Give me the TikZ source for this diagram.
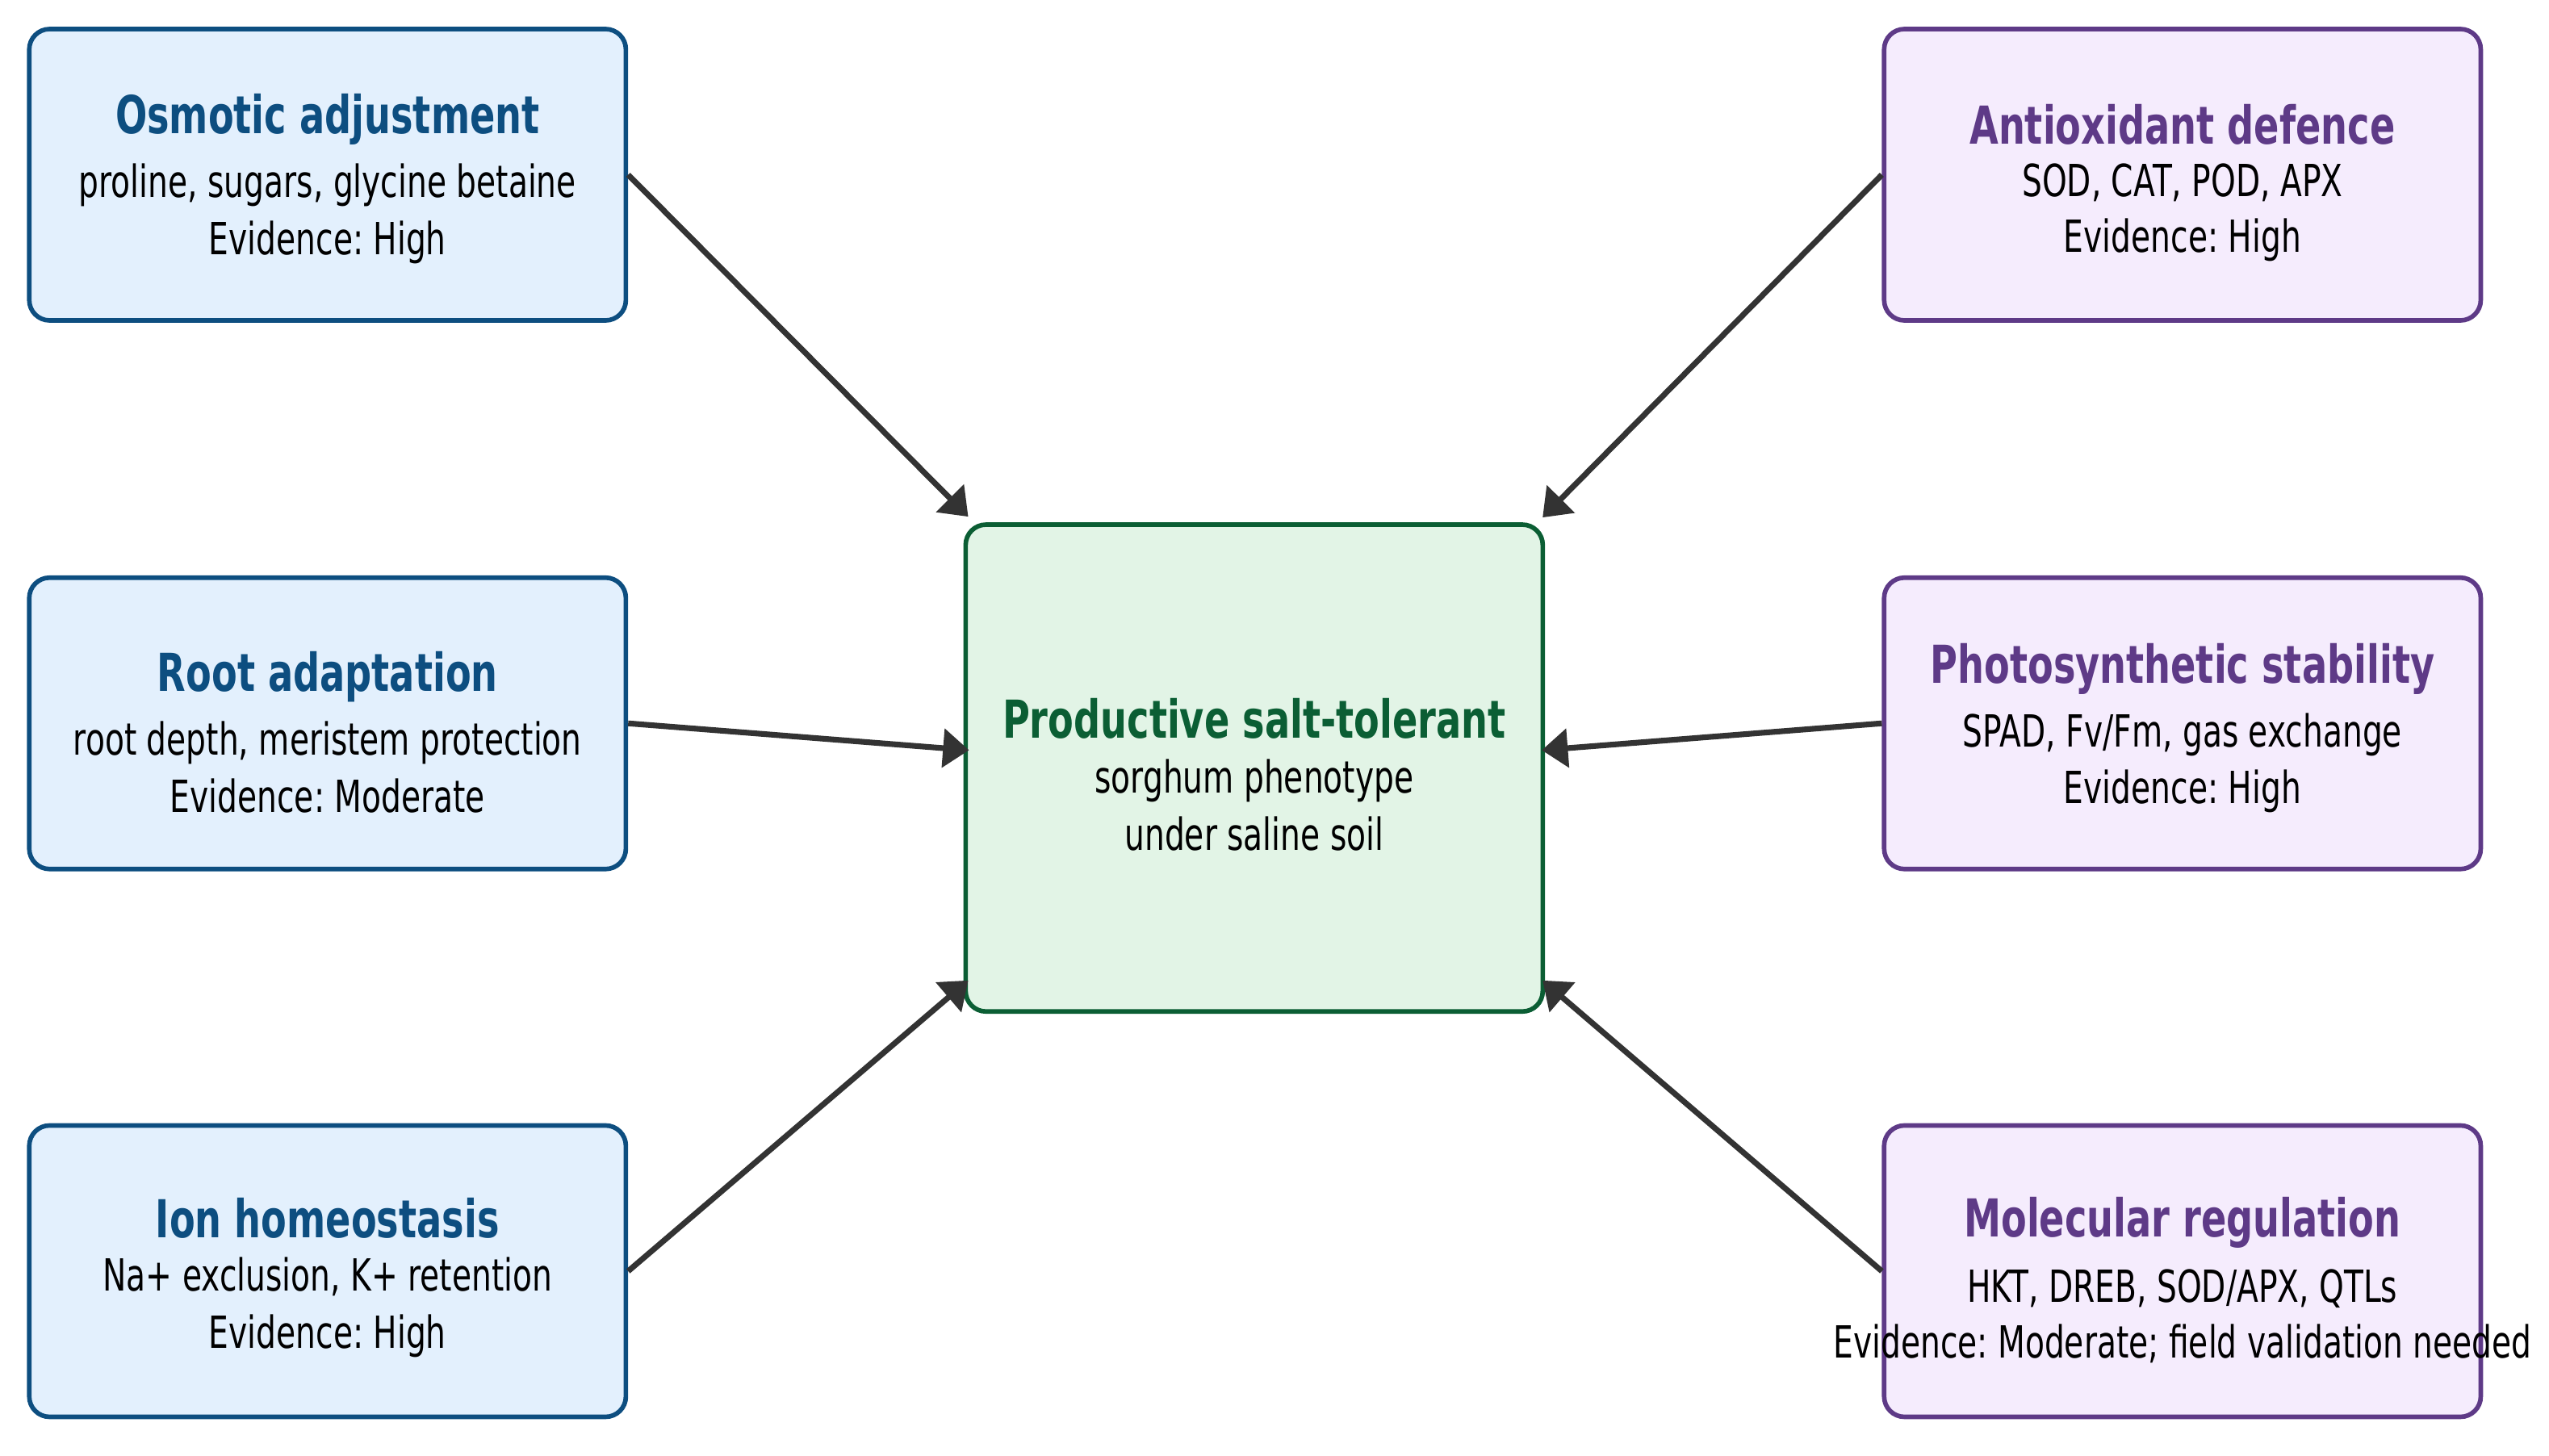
\documentclass[tikz,border=0pt]{standalone}
\usepackage{fontspec}
\setmainfont[FakeStretch=0.714]{DejaVu Sans}
\usetikzlibrary{arrows.meta}
\frenchspacing

\definecolor{bluedge}{HTML}{0D4E80}
\definecolor{bluefill}{HTML}{E3F0FD}
\definecolor{purpedge}{HTML}{5E3A87}
\definecolor{purpfill}{HTML}{F5ECFD}
\definecolor{greenedge}{HTML}{0B5E34}
\definecolor{greenfill}{HTML}{E2F4E6}
\definecolor{arrowgrey}{HTML}{333333}

\newcommand{\boxtitle}[2]{{\color{#1}\fontsize{18.3}{22}\selectfont\bfseries #2}}

\begin{document}
\begin{tikzpicture}[
    box/.style={draw, line width=1.6pt, rounded corners=0.25cm, minimum width=7.34cm, minimum height=3.585cm},
    cause/.style={box, draw=bluedge, fill=bluefill},
    reg/.style={box, draw=purpedge, fill=purpfill},
    core/.style={draw=greenedge, fill=greenfill, line width=1.6pt, rounded corners=0.25cm, minimum width=7.1cm, minimum height=5.99cm},
    txt/.style={align=center, font=\fontsize{15.5}{20}\selectfont},
    link/.style={draw=arrowgrey, line width=2pt, -{Triangle[length=0.32cm, width=0.47cm]}}
]
    \useasboundingbox (0,0) rectangle (31.36,-17.905);

    % boxes
    \node[cause] (osm) at (4.03,-2.15) {};
    \node[cause] (root) at (4.03,-8.90) {};
    \node[cause] (ion) at (4.03,-15.64) {};
    \node[reg] (antiox) at (26.85,-2.15) {};
    \node[reg] (photo) at (26.85,-8.90) {};
    \node[reg] (molec) at (26.85,-15.64) {};
    \node[core] (pheno) at (15.43,-9.45) {};

    % texts (titles without descenders sit closer to the line below)
    \node[txt] at ([yshift=-0.05cm]osm) {\boxtitle{bluedge}{Osmotic adjustment}\\[2.2pt]proline, sugars, glycine betaine\\Evidence: High};
    \node[txt] at ([yshift=-0.11cm]root) {\boxtitle{bluedge}{Root adaptation}\\[2.2pt]root depth, meristem protection\\Evidence: Moderate};
    \node[txt] at ([yshift=-0.08cm]ion) {\boxtitle{bluedge}{Ion homeostasis}\\[-1.2pt]Na+ exclusion, K+ retention\\Evidence: High};
    \node[txt] at ([yshift=-0.1cm]antiox) {\boxtitle{purpedge}{Antioxidant defence}\\[-1.8pt]SOD, CAT, POD, APX\\[-0.6pt]Evidence: High};
    \node[txt] at ([yshift=-0.06cm]photo) {\boxtitle{purpedge}{Photosynthetic stability}\\[2.2pt]SPAD, Fv/Fm, gas exchange\\Evidence: High};
    \node[txt] at ([yshift=-0.11cm]molec) {\boxtitle{purpedge}{Molecular regulation}\\[2.8pt]HKT, DREB, SOD/APX, QTLs\\[-0.6pt]Evidence: Moderate; field validation needed};
    \node[txt] at ([yshift=-0.08cm]pheno) {\boxtitle{greenedge}{Productive salt-tolerant}\\[-0.6pt]sorghum phenotype\\under saline soil};

    % arrow ends on the central box
    \coordinate (in-nw) at ([shift={(0.06,0.07)}]pheno.north west);
    \coordinate (in-w) at ([shift={(0.07,0.22)}]pheno.west);
    \coordinate (in-sw) at ([shift={(0.06,0.41)}]pheno.south west);
    \coordinate (in-ne) at ([shift={(-0.03,0.06)}]pheno.north east);
    \coordinate (in-e) at ([shift={(-0.04,0.22)}]pheno.east);
    \coordinate (in-se) at ([shift={(-0.03,0.41)}]pheno.south east);

    % arrows
    \draw[link] (osm.east) -- (in-nw);
    \draw[link] (root.east) -- (in-w);
    \draw[link] (ion.east) -- (in-sw);
    \draw[link] (antiox.west) -- (in-ne);
    \draw[link] (photo.west) -- (in-e);
    \draw[link] (molec.west) -- (in-se);
\end{tikzpicture}
\end{document}
